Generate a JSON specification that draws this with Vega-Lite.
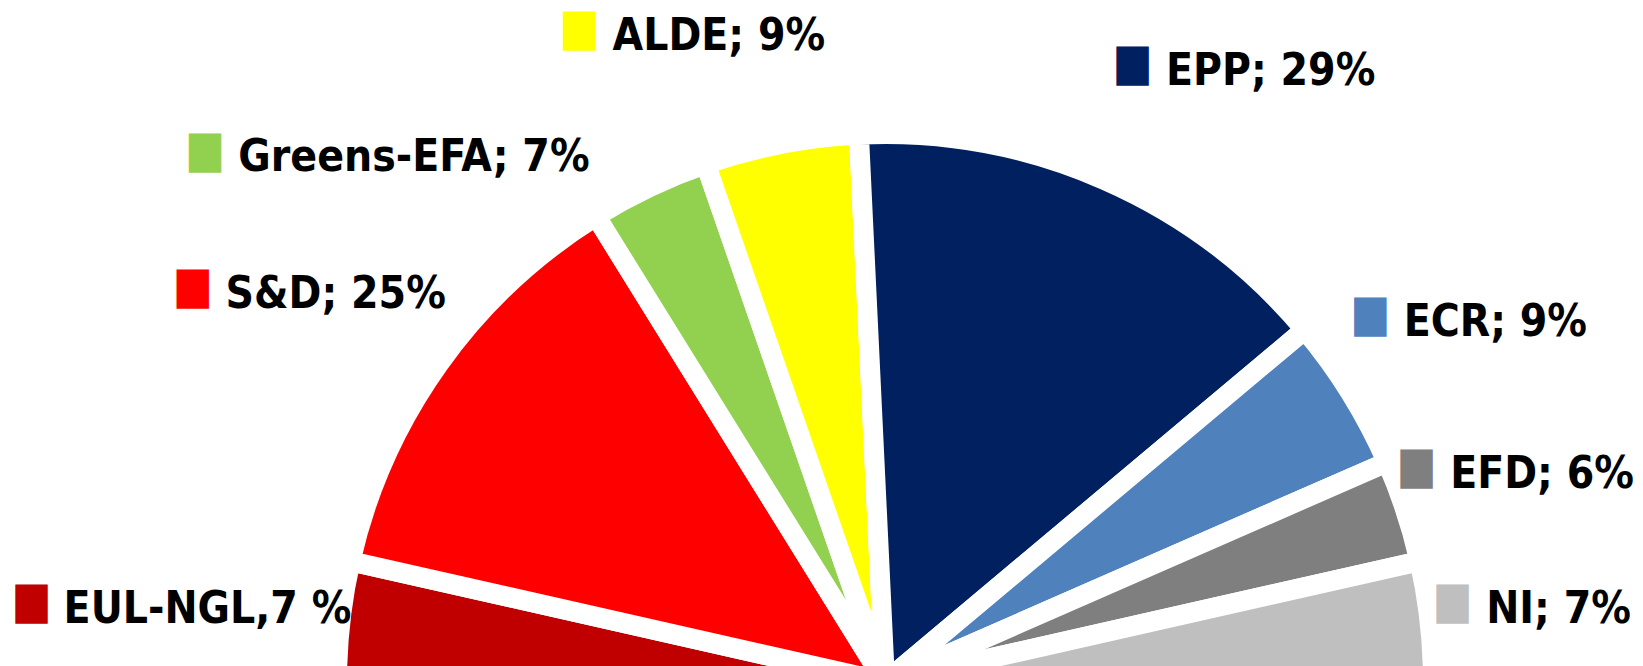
{
  "$schema": "https://vega.github.io/schema/vega-lite/v6.json",
  "width": 1643,
  "height": 666,
  "autosize": "none",
  "padding": 0,
  "background": "white",
  "view": {"stroke": null},
  "data": {
    "values": [
      {"party": "EUL-NGL", "share": 7, "seat": 1, "label": "EUL-NGL,7 %"},
      {"party": "S&D", "share": 25, "seat": 2, "label": "S&D; 25%"},
      {"party": "Greens-EFA", "share": 7, "seat": 3, "label": "Greens-EFA; 7%"},
      {"party": "ALDE", "share": 9, "seat": 4, "label": "ALDE; 9%"},
      {"party": "EPP", "share": 29, "seat": 5, "label": "EPP; 29%"},
      {"party": "ECR", "share": 9, "seat": 6, "label": "ECR; 9%"},
      {"party": "EFD", "share": 6, "seat": 7, "label": "EFD; 6%"},
      {"party": "NI", "share": 7, "seat": 8, "label": "NI; 7%"}
    ]
  },
  "encoding": {
    "theta": {"field": "share", "type": "quantitative", "stack": true, "scale": {"domain": [0, 99], "range": [-1.5707963, 1.5707963]}},
    "order": {"field": "seat", "type": "quantitative"},
    "detail": {"field": "party", "type": "nominal"}
  },
  "layer": [
    {
      "mark": {"type": "arc", "x": 885, "y": 682, "radius": 548, "stroke": "white", "strokeWidth": 20, "strokeJoin": "round"},
      "encoding": {
        "color": {"field": "party", "type": "nominal", "legend": null,
          "scale": {"domain": ["EUL-NGL", "S&D", "Greens-EFA", "ALDE", "EPP", "ECR", "EFD", "NI"],
                    "range": ["#C00000", "#FF0000", "#92D050", "#FFFF00", "#002060", "#4F81BD", "#7F7F7F", "#BFBFBF"]}}
      }
    },
    {"mark": {"type": "text", "x": 885, "y": 680, "radius": 640, "dx": -41.5, "dy": 13.9, "align": "center", "baseline": "alphabetic", "font": "DejaVu Sans Condensed, DejaVu Sans, sans-serif", "fontWeight": "bold", "fontSize": 44, "fill": "black"},
     "encoding": {"text": {"condition": {"test": "datum.party === 'EUL-NGL'", "field": "label", "type": "nominal"}, "value": ""}}},
    {"mark": {"type": "text", "x": 885, "y": 680, "radius": 640, "dx": -28, "dy": -1, "align": "center", "baseline": "alphabetic", "font": "DejaVu Sans Condensed, DejaVu Sans, sans-serif", "fontWeight": "bold", "fontSize": 44, "fill": "black"},
     "encoding": {"text": {"condition": {"test": "datum.party === 'S&D'", "field": "label", "type": "nominal"}, "value": ""}}},
    {"mark": {"type": "text", "x": 885, "y": 680, "radius": 640, "dx": -196, "dy": 69, "align": "center", "baseline": "alphabetic", "font": "DejaVu Sans Condensed, DejaVu Sans, sans-serif", "fontWeight": "bold", "fontSize": 44, "fill": "black"},
     "encoding": {"text": {"condition": {"test": "datum.party === 'Greens-EFA'", "field": "label", "type": "nominal"}, "value": ""}}},
    {"mark": {"type": "text", "x": 885, "y": 680, "radius": 640, "dx": -45, "dy": -2, "align": "center", "baseline": "alphabetic", "font": "DejaVu Sans Condensed, DejaVu Sans, sans-serif", "fontWeight": "bold", "fontSize": 44, "fill": "black"},
     "encoding": {"text": {"condition": {"test": "datum.party === 'ALDE'", "field": "label", "type": "nominal"}, "value": ""}}},
    {"mark": {"type": "text", "x": 885, "y": 680, "radius": 640, "dx": 129, "dy": -9, "align": "center", "baseline": "alphabetic", "font": "DejaVu Sans Condensed, DejaVu Sans, sans-serif", "fontWeight": "bold", "fontSize": 44, "fill": "black"},
     "encoding": {"text": {"condition": {"test": "datum.party === 'EPP'", "field": "label", "type": "nominal"}, "value": ""}}},
    {"mark": {"type": "text", "x": 885, "y": 680, "radius": 640, "dx": 66.5, "dy": -6.6, "align": "center", "baseline": "alphabetic", "font": "DejaVu Sans Condensed, DejaVu Sans, sans-serif", "fontWeight": "bold", "fontSize": 44, "fill": "black"},
     "encoding": {"text": {"condition": {"test": "datum.party === 'ECR'", "field": "label", "type": "nominal"}, "value": ""}}},
    {"mark": {"type": "text", "x": 885, "y": 680, "radius": 640, "dx": 49, "dy": 7.7, "align": "center", "baseline": "alphabetic", "font": "DejaVu Sans Condensed, DejaVu Sans, sans-serif", "fontWeight": "bold", "fontSize": 44, "fill": "black"},
     "encoding": {"text": {"condition": {"test": "datum.party === 'EFD'", "field": "label", "type": "nominal"}, "value": ""}}},
    {"mark": {"type": "text", "x": 885, "y": 680, "radius": 640, "dx": 37.5, "dy": 13.9, "align": "center", "baseline": "alphabetic", "font": "DejaVu Sans Condensed, DejaVu Sans, sans-serif", "fontWeight": "bold", "fontSize": 44, "fill": "black"},
     "encoding": {"text": {"condition": {"test": "datum.party === 'NI'", "field": "label", "type": "nominal"}, "value": ""}}},
    {"mark": {"type": "text", "x": 885, "y": 680, "radius": 640, "dx": -217.5, "dy": 1.4, "align": "center", "baseline": "alphabetic", "font": "DejaVu Sans", "fontSize": 17, "strokeWidth": 19, "strokeJoin": "miter"},
     "encoding": {"text": {"condition": {"test": "datum.party === 'EUL-NGL'", "value": "█"}, "value": ""},
       "color": {"field": "party", "type": "nominal", "legend": null},
       "stroke": {"field": "party", "type": "nominal", "legend": null, "scale": {"domain": ["EUL-NGL", "S&D", "Greens-EFA", "ALDE", "EPP", "ECR", "EFD", "NI"], "range": ["#C00000", "#FF0000", "#92D050", "#FFFF00", "#002060", "#4F81BD", "#7F7F7F", "#BFBFBF"]}}}},
    {"mark": {"type": "text", "x": 885, "y": 680, "radius": 640, "dx": -171, "dy": -13.5, "align": "center", "baseline": "alphabetic", "font": "DejaVu Sans", "fontSize": 17, "strokeWidth": 19, "strokeJoin": "miter"},
     "encoding": {"text": {"condition": {"test": "datum.party === 'S&D'", "value": "█"}, "value": ""},
       "color": {"field": "party", "type": "nominal", "legend": null},
       "stroke": {"field": "party", "type": "nominal", "legend": null}}},
    {"mark": {"type": "text", "x": 885, "y": 680, "radius": 640, "dx": -405, "dy": 56.5, "align": "center", "baseline": "alphabetic", "font": "DejaVu Sans", "fontSize": 17, "strokeWidth": 19, "strokeJoin": "miter"},
     "encoding": {"text": {"condition": {"test": "datum.party === 'Greens-EFA'", "value": "█"}, "value": ""},
       "color": {"field": "party", "type": "nominal", "legend": null},
       "stroke": {"field": "party", "type": "nominal", "legend": null}}},
    {"mark": {"type": "text", "x": 885, "y": 680, "radius": 640, "dx": -184.5, "dy": -14.5, "align": "center", "baseline": "alphabetic", "font": "DejaVu Sans", "fontSize": 17, "strokeWidth": 19, "strokeJoin": "miter"},
     "encoding": {"text": {"condition": {"test": "datum.party === 'ALDE'", "value": "█"}, "value": ""},
       "color": {"field": "party", "type": "nominal", "legend": null},
       "stroke": {"field": "party", "type": "nominal", "legend": null}}},
    {"mark": {"type": "text", "x": 885, "y": 680, "radius": 640, "dx": -9, "dy": -21.5, "align": "center", "baseline": "alphabetic", "font": "DejaVu Sans", "fontSize": 17, "strokeWidth": 19, "strokeJoin": "miter"},
     "encoding": {"text": {"condition": {"test": "datum.party === 'EPP'", "value": "█"}, "value": ""},
       "color": {"field": "party", "type": "nominal", "legend": null},
       "stroke": {"field": "party", "type": "nominal", "legend": null}}},
    {"mark": {"type": "text", "x": 885, "y": 680, "radius": 640, "dx": -58.5, "dy": -19.1, "align": "center", "baseline": "alphabetic", "font": "DejaVu Sans", "fontSize": 17, "strokeWidth": 19, "strokeJoin": "miter"},
     "encoding": {"text": {"condition": {"test": "datum.party === 'ECR'", "value": "█"}, "value": ""},
       "color": {"field": "party", "type": "nominal", "legend": null},
       "stroke": {"field": "party", "type": "nominal", "legend": null}}},
    {"mark": {"type": "text", "x": 885, "y": 680, "radius": 640, "dx": -76.5, "dy": -4.8, "align": "center", "baseline": "alphabetic", "font": "DejaVu Sans", "fontSize": 17, "strokeWidth": 19, "strokeJoin": "miter"},
     "encoding": {"text": {"condition": {"test": "datum.party === 'EFD'", "value": "█"}, "value": ""},
       "color": {"field": "party", "type": "nominal", "legend": null},
       "stroke": {"field": "party", "type": "nominal", "legend": null}}},
    {"mark": {"type": "text", "x": 885, "y": 680, "radius": 640, "dx": -68.5, "dy": 1.4, "align": "center", "baseline": "alphabetic", "font": "DejaVu Sans", "fontSize": 17, "strokeWidth": 19, "strokeJoin": "miter"},
     "encoding": {"text": {"condition": {"test": "datum.party === 'NI'", "value": "█"}, "value": ""},
       "color": {"field": "party", "type": "nominal", "legend": null},
       "stroke": {"field": "party", "type": "nominal", "legend": null}}}
  ]
}
